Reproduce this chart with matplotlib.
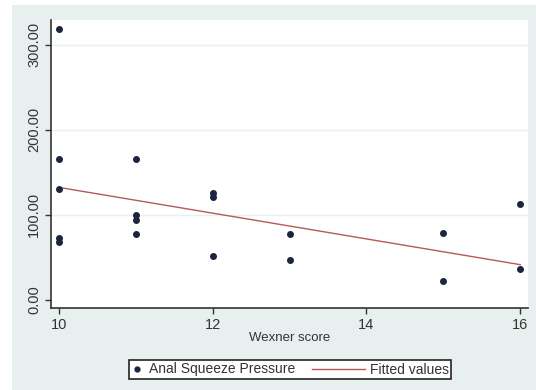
import matplotlib
matplotlib.use("Agg")
import matplotlib.pyplot as plt
from matplotlib.patches import Rectangle
from matplotlib.lines import Line2D
from matplotlib.legend_handler import HandlerLine2D

wexner = [10, 10, 10, 10, 10, 11, 11, 11, 11, 12, 12, 12, 13, 13, 15, 15, 16, 16]
pressure = [318, 165, 130, 72, 68, 165, 99, 94, 77, 125, 121, 51, 77, 46, 78, 22, 112, 36]
fit_x = [10, 16]
fit_y = [132, 41]
x_ticks = [10, 12, 14, 16]
y_ticks = [0, 100, 200, 300]
y_tick_labels = ["0.00", "100.00", "200.00", "300.00"]

W, H = 536, 390
plt.rcParams['font.family'] = ['Liberation Sans', 'DejaVu Sans']
fig = plt.figure(figsize=(W / 100, H / 100), dpi=100, facecolor="white")

bg = Rectangle((12 / W, 0), 1 - 12 / W, 1 - 5 / H, transform=fig.transFigure,
               facecolor="#e8f0ef", edgecolor="none", zorder=-10)
fig.add_artist(bg)

ax = fig.add_axes([51 / W, 1 - 308 / H, (528 - 51) / W, (308 - 20) / H])
ax.set_zorder(1)
ax.set_facecolor("white")
ax.set_xlim(9.9, 16.1)
ax.set_ylim(-10, 329)

for yv in y_ticks[1:]:
    ax.axhline(yv, color="#e8efef", lw=1.0, zorder=1)

ax.scatter(wexner, pressure, s=16, color="#1c2540", zorder=3)
ax.plot(fit_x, fit_y, color="#b55a5a", lw=1.0, zorder=2)

ax.set_xticks(x_ticks)
ax.set_xticklabels([str(v) for v in x_ticks], fontsize=10.5, color="#333333")
ax.set_yticks(y_ticks)
ax.set_yticklabels(y_tick_labels, fontsize=10.5, rotation=90, va="center", color="#333333")
ax.tick_params(axis="both", direction="out", length=4, width=1, color="#333333", pad=3)
for s in ["top", "right"]:
    ax.spines[s].set_visible(False)
for s in ["left", "bottom"]:
    ax.spines[s].set_color("#333333")
    ax.spines[s].set_linewidth(1.2)

ax.set_xlabel("Wexner score", fontsize=9.5, color="#333333", labelpad=0)


class LongLineHandler(HandlerLine2D):
    def get_xdata(self, legend, xdescent, ydescent, width, height, fontsize):
        xd, xm = super().get_xdata(legend, xdescent, ydescent, width, height, fontsize)
        return [-xdescent - 40 * 0.72, -xdescent + width], xm


handles = [
    Line2D([], [], marker="o", linestyle="none", markersize=3.5, color="#1c2540"),
    Line2D([], [], color="#b55a5a", lw=1.0),
]
leg = fig.legend(handles, ["Anal Squeeze Pressure", "Fitted values"], ncol=2,
                 loc="center", bbox_to_anchor=(290 / W, 1 - 369.5 / H),
                 fontsize=10, frameon=True, fancybox=False, edgecolor="#222222",
                 framealpha=1, handlelength=0.9, columnspacing=4.1,
                 borderpad=0.15, borderaxespad=0, handletextpad=0.4,
                 handler_map={handles[1]: LongLineHandler()})
leg.get_frame().set_linewidth(1.2)
for t in leg.get_texts():
    t.set_color("#333333")

fig.savefig("out.png", dpi=100, facecolor=fig.get_facecolor())
